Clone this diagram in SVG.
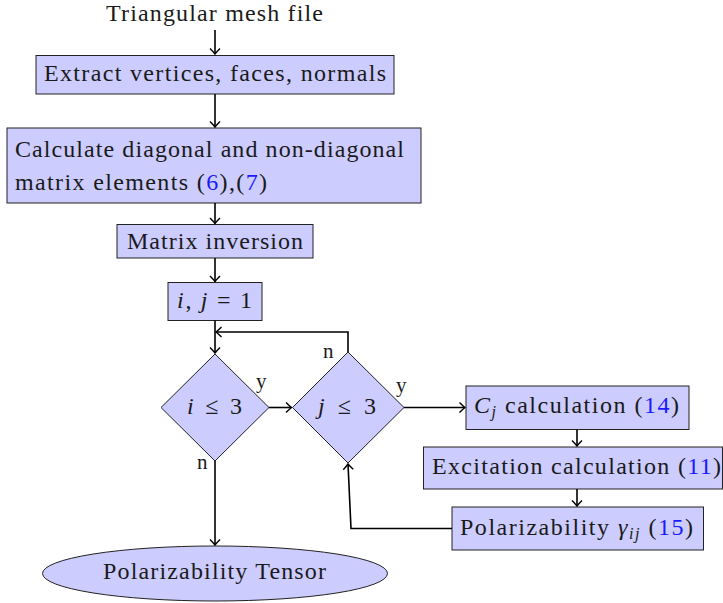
<svg xmlns="http://www.w3.org/2000/svg" width="723" height="603" viewBox="0 0 723 603">
<style>
.box{fill:#ccccff;stroke:#222;stroke-width:1}
.t{font-family:"Liberation Serif","Times New Roman",serif;font-size:24px;fill:#1a1a1a}
.lbl{font-family:"Liberation Serif","Times New Roman",serif;font-size:21px;fill:#1a1a1a}
.c{fill:none;stroke:#000;stroke-width:1.6}
.m{font-style:italic}
.ref{fill:#1a1aff}
</style>
<defs>
<marker id="ar" viewBox="-7 -6 9 12" refX="0" refY="0" markerWidth="9" markerHeight="12" markerUnits="userSpaceOnUse" orient="auto">
<path d="M-5.5,-5 Q-2,-1.5 0,0 Q-2,1.5 -5.5,5" fill="none" stroke="#000" stroke-width="1.4"/>
</marker>
</defs>
<g id="start"><text class="t" x="106" y="21" textLength="217" lengthAdjust="spacing">Triangular mesh file</text></g>
<g id="extract"><rect class="box" x="36" y="55.5" width="358" height="38.5"/><text class="t" x="44" y="81" textLength="342" lengthAdjust="spacing">Extract vertices, faces, normals</text></g>
<g id="calc"><rect class="box" x="7" y="128" width="414" height="75"/><text class="t" x="15" y="157" textLength="389" lengthAdjust="spacing">Calculate diagonal and non-diagonal</text><text class="t" x="15" y="190" textLength="252" lengthAdjust="spacing">matrix elements (<tspan class="ref">6</tspan>),(<tspan class="ref">7</tspan>)</text></g>
<g id="inv"><rect class="box" x="117" y="224.5" width="196" height="33.5"/><text class="t" x="127" y="249" textLength="176" lengthAdjust="spacing">Matrix inversion</text></g>
<g id="init"><rect class="box" x="168" y="282.5" width="94" height="38"/><text class="t" x="177" y="308" textLength="75" lengthAdjust="spacing"><tspan class="m">i</tspan>, <tspan class="m">j</tspan> = 1</text></g>
<g id="di"><polygon class="box" points="215,354 269,407.5 215,461 161,407.5"/><text class="t" x="187" y="414" textLength="55" lengthAdjust="spacing"><tspan class="m">i</tspan> ≤ 3</text></g>
<g id="dj"><polygon class="box" points="348,352 404,407.5 348,463 292.5,407.5"/><text class="t" x="318" y="414" textLength="58" lengthAdjust="spacing"><tspan class="m">j</tspan> ≤ 3</text></g>
<g id="cj"><rect class="box" x="466" y="386" width="223" height="43.5"/><text class="t" x="474" y="413" textLength="205" lengthAdjust="spacing"><tspan class="m">C</tspan><tspan class="m" font-size="16" dy="4">j</tspan><tspan dy="-4"> calculation (</tspan><tspan class="ref">14</tspan>)</text></g>
<g id="exc"><rect class="box" x="423.5" y="447" width="299" height="42"/><text class="t" x="432" y="474" textLength="289" lengthAdjust="spacing">Excitation calculation (<tspan class="ref">11</tspan>)</text></g>
<g id="pol"><rect class="box" x="452" y="507" width="251.5" height="43"/><text class="t" x="460" y="535" textLength="233" lengthAdjust="spacing">Polarizability <tspan class="m">γ</tspan><tspan class="m" font-size="16" dy="4">ij</tspan><tspan dy="-4"> (</tspan><tspan class="ref">15</tspan>)</text></g>
<g id="tensor"><ellipse class="box" cx="215" cy="573.5" rx="172.5" ry="27.5"/><text class="t" x="103" y="579" textLength="223" lengthAdjust="spacing">Polarizability Tensor</text></g>
<g id="labels">
<text class="lbl" x="256" y="388">y</text>
<text class="lbl" x="396" y="392">y</text>
<text class="lbl" x="197" y="469">n</text>
<text class="lbl" x="323" y="358">n</text>
</g>
<g id="connectors">
<line class="c" x1="215" y1="30" x2="215" y2="54" marker-end="url(#ar)"/>
<line class="c" x1="215" y1="94" x2="215" y2="127" marker-end="url(#ar)"/>
<line class="c" x1="215" y1="203" x2="215" y2="223.5" marker-end="url(#ar)"/>
<line class="c" x1="215" y1="258" x2="215" y2="281.5" marker-end="url(#ar)"/>
<line class="c" x1="215" y1="320.5" x2="215" y2="353" marker-end="url(#ar)"/>
<polyline class="c" points="348,352 348,332 216,332" marker-end="url(#ar)"/>
<line class="c" x1="269" y1="407.5" x2="291.5" y2="407.5" marker-end="url(#ar)"/>
<line class="c" x1="404" y1="407.5" x2="465" y2="407.5" marker-end="url(#ar)"/>
<line class="c" x1="577" y1="429.5" x2="577" y2="446" marker-end="url(#ar)"/>
<line class="c" x1="577" y1="489" x2="577" y2="506" marker-end="url(#ar)"/>
<polyline class="c" points="452,528.5 351,528.5 348,464" marker-end="url(#ar)"/>
<line class="c" x1="215" y1="461" x2="215" y2="545" marker-end="url(#ar)"/>
</g>
</svg>
